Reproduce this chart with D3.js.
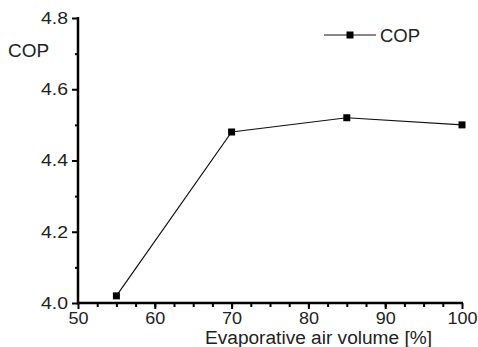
<!DOCTYPE html>
<html>
<head>
<meta charset="utf-8">
<script src="https://cdn.jsdelivr.net/npm/d3@7"></script>
<style>
	body { margin: 0; background: #fff; }
	svg text { font-family: "Liberation Sans", Arial, sans-serif; fill: #222; }
</style>
</head>
<body>
<div id="chart"></div>
<script>
// data
var airVolume = [55, 70, 85, 100];
var cop = [4.02, 4.48, 4.52, 4.50];
var xTicks = [50, 60, 70, 80, 90, 100];
var yTicks = [4.0, 4.2, 4.4, 4.6, 4.8];
var seriesName = 'COP';

var W = 478, H = 347;
var area = { left: 78, top: 18, right: 462, bottom: 303 };

var svg = d3.select('#chart').append('svg')
	.attr('width', W).attr('height', H);

var x = d3.scaleLinear().domain([50, 100]).range([area.left, area.right]);
var y = d3.scaleLinear().domain([4.0, 4.8]).range([area.bottom, area.top]);

// x axis, minor ticks first
var gx = svg.append('g').attr('transform', 'translate(0,' + area.bottom + ')');
gx.append('g').attr('class', 'minor').call(d3.axisBottom(x).tickValues(d3.range(52.5, 100, 2.5)).tickSize(4).tickSizeOuter(0).tickFormat(''));
gx.append('g').call(d3.axisBottom(x).tickValues(xTicks).tickSize(6).tickSizeOuter(0).tickPadding(3.5).tickFormat(d3.format('d')));

// y axis
var gy = svg.append('g').attr('transform', 'translate(' + area.left + ',0)');
gy.append('g').attr('class', 'minor').call(d3.axisLeft(y).tickValues([4.1, 4.3, 4.5, 4.7]).tickSize(3).tickSizeOuter(0).tickFormat(''));
gy.append('g').call(d3.axisLeft(y).tickValues(yTicks).tickSize(6).tickSizeOuter(0).tickPadding(4).tickFormat(d3.format('.1f')));

svg.selectAll('.domain').remove();
svg.selectAll('.tick line').attr('stroke', '#000').attr('stroke-width', 2);
svg.selectAll('.tick text').style('font-size', '16.5px').style('fill', '#222');
gx.selectAll('.tick text').attr('textLength', function (d) { return String(d).length * 10; }).attr('lengthAdjust', 'spacingAndGlyphs');
gy.selectAll('.tick text').attr('textLength', 27).attr('lengthAdjust', 'spacingAndGlyphs');

// axis lines
svg.append('path')
	.attr('d', 'M' + area.left + ',' + (y.range()[1] - 1) + 'V' + area.bottom + 'H' + (x.range()[1] + 1))
	.attr('fill', 'none').attr('stroke', '#000').attr('stroke-width', 2.5);

// axis titles
svg.append('text').attr('x', 8).attr('y', 57).style('font-size', '19px').text('COP');
svg.append('text').attr('x', 205).attr('y', 344)
	.attr('textLength', 227).attr('lengthAdjust', 'spacingAndGlyphs')
	.style('font-size', '18px').text('Evaporative air volume [%]');

// line + markers
var pts = airVolume.map(function (d, i) { return [d, cop[i]]; });
svg.append('path').datum(pts)
	.attr('fill', 'none').attr('stroke', '#111').attr('stroke-width', 1.2)
	.attr('d', d3.line().x(function (d) { return x(d[0]); }).y(function (d) { return y(d[1]); }));
svg.selectAll('.pt').data(pts).enter().append('rect')
	.attr('x', function (d) { return x(d[0]) - 3.5; })
	.attr('y', function (d) { return y(d[1]) - 3.5; })
	.attr('width', 7).attr('height', 7).attr('fill', '#000');

// legend
var lg = svg.append('g').attr('transform', 'translate(324,35)');
lg.append('line').attr('x1', 0).attr('x2', 52).attr('stroke', '#111').attr('stroke-width', 1.2);
lg.append('rect').attr('x', 22.5).attr('y', -3.5).attr('width', 7).attr('height', 7).attr('fill', '#000');
lg.append('text').attr('x', 56).attr('y', 7).style('font-size', '18.5px').text(seriesName);
</script>
</body>
</html>
